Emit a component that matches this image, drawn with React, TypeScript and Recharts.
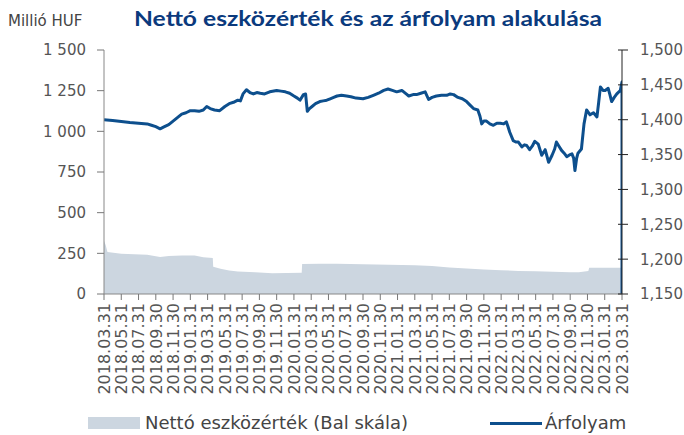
import { Area, ComposedChart, Line, XAxis, YAxis } from "recharts";

// months since 2018.03.31 and the exchange rate (right scale)
const rateMonths = [
  0, 1, 2, 3, 4, 5, 5.5, 6, 6.5, 7, 7.5, 8, 8.5, 9, 9.5, 10, 10.5, 11, 11.5, 11.9,
  12.3, 12.8, 13.4, 14, 14.5, 15, 15.5, 15.8, 16.1, 16.5, 16.9, 17.3, 17.7, 18.1, 18.6, 19.2,
  20, 20.5, 21, 21.5, 22, 22.4, 22.7, 23.1, 23.35, 23.55, 23.8, 24.1, 24.5, 25, 25.4, 25.8,
  26.2, 26.6, 27, 27.5, 28.1, 28.6, 29.2, 30, 30.6, 31.2, 31.8, 32.4, 32.9, 33.4, 33.9, 34.5,
  35, 35.3, 35.8, 36.2, 36.7, 37.2, 37.6, 38, 38.5, 39.1, 39.7, 40.1, 40.5, 41, 41.5, 42,
  42.4, 42.8, 43.3, 43.55, 43.75, 44, 44.3, 44.7, 45.1, 45.5, 45.9, 46.3, 46.6, 46.8, 47, 47.4,
  47.7, 48, 48.4, 48.7, 48.96, 49.3, 49.6, 49.9, 50.3, 50.7, 51.1, 51.5, 51.9, 52.2, 52.4, 52.7,
  53, 53.3, 53.6, 54, 54.2, 54.4, 54.55, 54.75, 54.9, 55.3, 55.6, 55.9, 56.3, 56.7, 57.1, 57.3,
  57.5, 57.8, 58.05, 58.4, 58.6, 58.8, 59.1, 59.4, 59.8, 60, 60,
];
const rateValues = [
  1400, 1399, 1397.5, 1396, 1395, 1394, 1392, 1390, 1387, 1390, 1393, 1398, 1403, 1408, 1410, 1413, 1413, 1412, 1414, 1419,
  1416, 1414, 1413, 1419, 1423, 1425, 1428, 1427, 1437, 1443, 1439, 1437, 1439, 1438, 1437, 1440,
  1442, 1441, 1440, 1438, 1434, 1431, 1428, 1436, 1437, 1412, 1416, 1419, 1423, 1426, 1427, 1428,
  1430, 1432, 1434, 1435, 1434, 1433, 1431, 1430, 1432, 1435, 1438, 1442, 1444, 1442, 1440, 1442,
  1437, 1434, 1436, 1436, 1438, 1440, 1429, 1432, 1434, 1435, 1435, 1437, 1436, 1432, 1430, 1426,
  1421, 1416, 1414, 1405, 1394, 1398, 1398, 1394, 1392, 1395, 1395, 1394, 1397, 1390, 1382, 1370,
  1368, 1368, 1361, 1364, 1363, 1357, 1362, 1369, 1365, 1349, 1357, 1339, 1349, 1358, 1368, 1362,
  1356, 1352, 1347, 1350, 1351, 1345, 1327, 1345, 1352, 1358, 1394, 1414, 1407, 1410, 1404, 1425,
  1447, 1442, 1442, 1445, 1436, 1426, 1432, 1437, 1442, 1454, 1150,
];

// net asset value, million HUF (left scale)
const navMonths = [
  0, 0.2, 0.4, 2, 5, 6.5, 7.5, 9, 10.5, 11.5, 12.6, 12.65, 13.5, 14.5, 15.5, 17.5, 19.5, 22.9,
  22.95, 25, 27, 30, 33, 36, 38, 40, 42, 44, 46, 48, 50, 52, 54, 55, 56.1, 56.2, 60,
];
const navValues = [
  327, 300, 258, 248, 241, 228, 233, 236, 236, 226, 221, 168, 155, 145, 138, 133, 127, 130,
  185, 186, 186, 183, 180, 177, 172, 163, 156, 150, 146, 142, 140, 137, 134, 133, 142, 162, 162,
];

const dateLabels = [
  "2018.03.31", "2018.05.31", "2018.07.31", "2018.09.30", "2018.11.30",
  "2019.01.31", "2019.03.31", "2019.05.31", "2019.07.31", "2019.09.30", "2019.11.30",
  "2020.01.31", "2020.03.31", "2020.05.31", "2020.07.31", "2020.09.30", "2020.11.30",
  "2021.01.31", "2021.03.31", "2021.05.31", "2021.07.31", "2021.09.30", "2021.11.30",
  "2022.01.31", "2022.03.31", "2022.05.31", "2022.07.31", "2022.09.30", "2022.11.30",
  "2023.01.31", "2023.03.31",
];
const leftTicks = [0, 250, 500, 750, 1000, 1250, 1500];
const rightTicks = [1150, 1200, 1250, 1300, 1350, 1400, 1450, 1500];

const rateData = rateMonths.map((m, i) => ({ m, rate: rateValues[i] }));
const navData = navMonths.map((m, i) => ({ m, nav: navValues[i] }));
const xTicks = dateLabels.map((_, i) => i * 2);

const FONT = "'DejaVu Sans', sans-serif";
const TEXT = "#555";
const BLUE = "#0d4f8d";
const GREY = "#ccd6e0";

const XTick = (props: any) => {
  const { x, y, payload } = props;
  return (
    <g transform={`translate(${x},${y})`}>
      <line y1={0} y2={6} stroke="#777" />
      <text
        transform="rotate(-90)"
        x={-9}
        y={0}
        dy="0.36em"
        textAnchor="end"
        fontSize={16}
        fontFamily={FONT}
        fill={TEXT}
      >
        {dateLabels[Math.round(payload.value / 2)]}
      </text>
    </g>
  );
};

const LeftTick = (props: any) => {
  const { x, y, payload } = props;
  const label = payload.value >= 1000 ? `1 ${String(payload.value).slice(1)}` : String(payload.value);
  return (
    <g>
      <line x1={x - 7} x2={x} y1={y} y2={y} stroke="#777" />
      <text x={x - 18} y={y} dy="0.36em" textAnchor="end" fontSize={15} fontFamily={FONT} fill={TEXT}>
        {label}
      </text>
    </g>
  );
};

const RightTick = (props: any) => {
  const { x, y, payload } = props;
  const label = `1,${String(payload.value).slice(1)}`;
  return (
    <g>
      <line x1={x - 4} x2={x + 6} y1={y} y2={y} stroke="#222" />
      <text x={x + 18} y={y} dy="0.36em" textAnchor="start" fontSize={15} fontFamily={FONT} fill={TEXT}>
        {label}
      </text>
    </g>
  );
};

export default function App() {
  return (
    <div style={{ position: "absolute", left: 0, top: 0, width: 684, height: 435, background: "#fff" }}>
      <svg width={684} height={40} style={{ position: "absolute", left: 0, top: 0 }}>
        <text x={8} y={26} fontSize={15} fontFamily={FONT} fill="#444">
          Millió HUF
        </text>
        <text
          x={134}
          y={26}
          fontSize={20}
          fontWeight="bold"
          fontFamily="Lato, sans-serif"
          fill="#0b3a7d"
          textLength={468}
          lengthAdjust="spacingAndGlyphs"
        >
          Nettó eszközérték és az árfolyam alakulása
        </text>
      </svg>
      <ComposedChart width={684} height={435} margin={{ top: 50, right: 0, bottom: 0, left: 0 }}>
        <XAxis
          dataKey="m"
          type="number"
          domain={[0, 60]}
          ticks={xTicks}
          interval={0}
          tickSize={0}
          tickMargin={0}
          tick={<XTick />}
          height={141}
          stroke="#888"
          allowDataOverflow
        />
        <YAxis
          yAxisId="left"
          orientation="left"
          domain={[0, 1500]}
          ticks={leftTicks}
          width={104}
          tickSize={0}
          tickMargin={0}
          tick={<LeftTick />}
          stroke="#888"
        />
        <YAxis
          yAxisId="right"
          orientation="right"
          domain={[1150, 1500]}
          ticks={rightTicks}
          width={62}
          tickSize={0}
          tickMargin={0}
          tick={<RightTick />}
          stroke="#222"
          allowDataOverflow
        />
        <Area
          yAxisId="left"
          data={navData}
          dataKey="nav"
          type="linear"
          fill={GREY}
          fillOpacity={1}
          stroke="none"
          isAnimationActive={false}
        />
        <Line
          yAxisId="right"
          data={rateData}
          dataKey="rate"
          type="linear"
          stroke={BLUE}
          strokeWidth={3}
          strokeLinejoin="round"
          dot={false}
          isAnimationActive={false}
        />
      </ComposedChart>
      <div style={{ position: "absolute", left: 88, top: 417, width: 52, height: 12, background: GREY }} />
      <div
        style={{
          position: "absolute",
          left: 145,
          top: 412,
          fontSize: 18,
          fontFamily: FONT,
          color: "#444",
          lineHeight: "22px",
          whiteSpace: "nowrap",
        }}
      >
        Nettó eszközérték (Bal skála)
      </div>
      <div style={{ position: "absolute", left: 490, top: 422, width: 52, height: 3, background: BLUE }} />
      <div
        style={{
          position: "absolute",
          left: 545,
          top: 412,
          fontSize: 18,
          fontFamily: FONT,
          color: "#444",
          lineHeight: "22px",
          whiteSpace: "nowrap",
        }}
      >
        Árfolyam
      </div>
    </div>
  );
}
